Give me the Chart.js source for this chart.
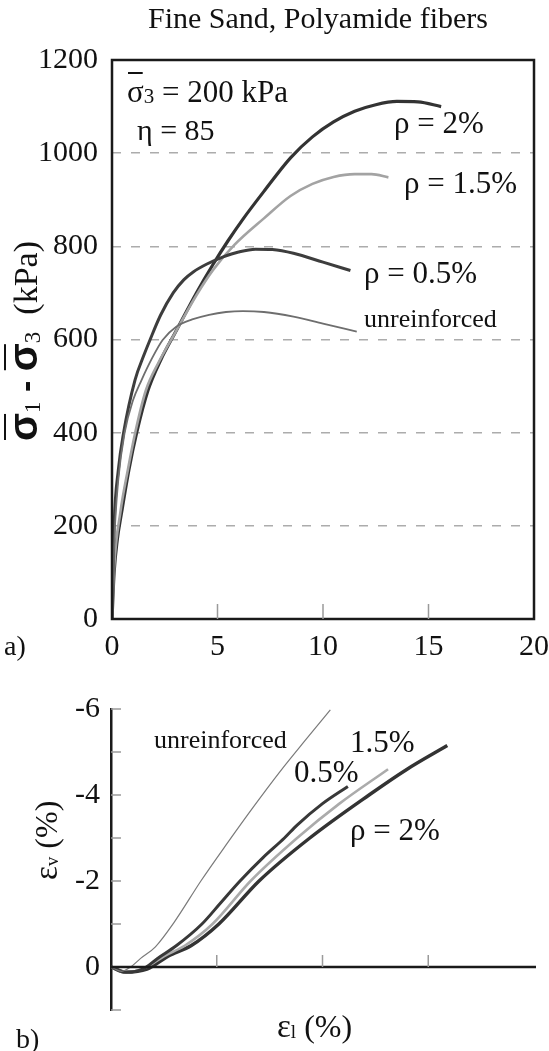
<!DOCTYPE html>
<html>
<head>
<meta charset="utf-8">
<title>Fine Sand, Polyamide fibers</title>
<script src="https://cdn.jsdelivr.net/npm/chart.js@4.4.1/dist/chart.umd.min.js"></script>
<style>
  body { margin: 0; background: #fff; }
  #wrap { position: relative; width: 549px; height: 1051px; }
  canvas { position: absolute; left: 0; }
  #stressChart { top: 0; }
  #volChart { top: 680px; }
</style>
</head>
<body>
<div id="wrap">
  <canvas id="stressChart" width="549" height="680"></canvas>
  <canvas id="volChart" width="549" height="371"></canvas>
</div>
<script>
// a) deviator stress (kPa) against axial strain (%)
const strainUnr = [0, 0.1, 0.3, 0.6, 1.0, 1.4, 1.9, 2.4, 3.06, 3.8, 4.6, 5.4, 6.2, 7.2, 8.6, 10, 11.6];
const stressUnr = [0, 160, 300, 400, 470, 513, 560, 599, 628, 643, 653, 659, 661, 659, 649, 634, 617];

const strain05 = [0, 0.1, 0.3, 0.55, 1.09, 1.5, 1.8, 2.3, 2.9, 3.4, 3.85, 4.5, 5.3, 6.0, 6.8, 7.6, 8.6, 10, 11.3];
const stress05 = [0, 200, 320, 400, 513, 565, 599, 652, 700, 728, 745, 762, 778, 788, 794, 793, 785, 766, 748];

const strain15 = [0, 0.1, 0.4, 0.75, 1.1, 1.6, 2.2, 3.0, 4.0, 4.8, 5.8, 7.2, 8.46, 9.5, 10.5, 11.5, 12.3, 13.1];
const stress15 = [0, 110, 230, 320, 400, 490, 550, 615, 695, 750, 803, 860, 908, 934, 949, 955, 955, 948];

const strain2 = [0, 0.1, 0.25, 0.46, 0.8, 1.17, 1.7, 2.3, 3.07, 4.0, 4.8, 5.5, 6.2, 7.2, 8.46, 9.5, 10.5, 11.5, 12.5, 13.5, 14.5, 15.6];
const stress2 = [0, 100, 170, 230, 320, 400, 490, 555, 621, 700, 762, 812, 858, 918, 990, 1035, 1067, 1090, 1104, 1111, 1110, 1100];

// b) volumetric strain (%) against axial strain (%)
const volStrainUnr = [0, 0.5, 0.93, 1.4, 2.1, 3.0, 4.25, 5.5, 6.7, 8.0, 9.2, 10.37];
const volUnr = [0, 0.1, 0, -0.2, -0.47, -1.05, -2.0, -2.88, -3.7, -4.55, -5.28, -5.98];

const volStrain05 = [0, 0.7, 1.5, 2.2, 3.1, 4.3, 5.2, 6.1, 7.2, 8.2, 8.8, 10, 11.2];
const vol05 = [0, 0.12, 0.05, -0.2, -0.5, -1.0, -1.5, -2.0, -2.55, -3.0, -3.3, -3.8, -4.2];

const volStrain15 = [0, 0.7, 1.6, 2.5, 3.5, 4.8, 6.6, 8.8, 10.8, 13.1];
const vol15 = [0, 0.12, 0.02, -0.25, -0.5, -1.0, -2.0, -3.0, -3.8, -4.6];

const volStrain2 = [0, 0.7, 1.7, 2.7, 3.8, 5.1, 7.0, 9.4, 12.2, 14.0, 15.9];
const vol2 = [0, 0.12, 0.05, -0.25, -0.5, -1.0, -2.0, -3.0, -4.0, -4.6, -5.15];

const seriesNames = ["unreinforced", "ρ = 0.5%", "ρ = 1.5%", "ρ = 2%"];
const strainTicks = [0, 5, 10, 15, 20];
const stressTicks = [0, 200, 400, 600, 800, 1000, 1200];
const volTicks = [-6, -4, -2, 0];

const ink = "#111";
const serif = '"Liberation Serif"';
const sans = '"Liberation Sans"';

Chart.defaults.font.family = serif;
Chart.defaults.color = ink;

const toPoints = (xs, ys) => xs.map((x, i) => ({ x: x, y: ys[i] }));

// writes a run of text pieces left to right, optional overbar and sub offset
function drawParts(ctx, x, y, parts) {
  let cx = x;
  for (const p of parts) {
    ctx.font = p.font;
    const w = ctx.measureText(p.text).width;
    ctx.fillText(p.text, cx, y + (p.dy || 0));
    if (p.bar) ctx.fillRect(cx + 1, y - p.bar, w - 2, 2);
    cx += w;
  }
  return cx - x;
}

function tickLine(ctx, x1, y1, x2, y2) {
  ctx.beginPath();
  ctx.moveTo(x1, y1);
  ctx.lineTo(x2, y2);
  ctx.stroke();
}

const stressDecor = {
  id: "stressDecor",
  afterDraw(chart) {
    const { ctx, chartArea: a } = chart;
    const xs = chart.scales.x;
    ctx.save();

    // frame round the plot
    ctx.strokeStyle = "#1a1a1a";
    ctx.lineWidth = 2.5;
    ctx.strokeRect(a.left, a.top, a.right - a.left, a.bottom - a.top);

    // short inward marks on the strain axis
    ctx.strokeStyle = "#9a9a9a";
    ctx.lineWidth = 1.5;
    strainTicks.slice(1, -1).forEach((v) => {
      const px = xs.getPixelForValue(v);
      tickLine(ctx, px, a.bottom, px, a.bottom - 15);
    });

    ctx.fillStyle = ink;
    ctx.textBaseline = "alphabetic";

    ctx.textAlign = "center";
    ctx.font = "30px " + serif;
    ctx.fillText("Fine Sand, Polyamide fibers", 318, 28);
    ctx.textAlign = "left";

    drawParts(ctx, 127, 102, [
      { text: "σ", font: "31px " + serif, bar: 30 },
      { text: "3", font: "21px " + serif, dy: 1 },
      { text: " = 200 kPa", font: "31px " + serif },
    ]);
    drawParts(ctx, 137, 140, [{ text: "η = 85", font: "30px " + serif }]);

    // curve names next to their ends
    ctx.font = "31px " + serif;
    ctx.fillText(seriesNames[3], 394, 133);
    ctx.fillText(seriesNames[2], 404, 193);
    ctx.fillText(seriesNames[1], 364, 283);
    ctx.font = "26px " + serif;
    ctx.fillText(seriesNames[0], 364, 327);

    ctx.font = "28px " + serif;
    ctx.fillText("a)", 4, 655);

    // rotated stress axis title
    ctx.save();
    ctx.translate(37, 441);
    ctx.rotate(-Math.PI / 2);
    drawParts(ctx, 0, 0, [
      { text: "σ", font: "bold 41px " + sans, bar: 33 },
      { text: "1", font: "23px " + serif, dy: 3 },
      { text: " - ", font: "bold 34px " + sans },
      { text: "σ", font: "bold 41px " + sans, bar: 33 },
      { text: "3", font: "23px " + serif, dy: 3 },
      { text: "  (kPa)", font: "34px " + serif },
    ]);
    ctx.restore();

    ctx.restore();
  },
};

const volDecor = {
  id: "volDecor",
  afterDraw(chart) {
    const { ctx, chartArea: a } = chart;
    const xs = chart.scales.x;
    const ys = chart.scales.y;
    const y0 = ys.getPixelForValue(0);
    ctx.save();

    // strain axis drawn through zero
    ctx.strokeStyle = "#1a1a1a";
    ctx.lineWidth = 2.5;
    tickLine(ctx, a.left, y0, a.right + 2, y0);

    ctx.strokeStyle = "#9a9a9a";
    ctx.lineWidth = 1.5;
    strainTicks.slice(1, -1).forEach((v) => {
      const px = xs.getPixelForValue(v);
      tickLine(ctx, px, y0, px, y0 - 12);
    });
    for (let v = -6; v <= 1; v++) {
      if (v === 0) continue;
      const py = ys.getPixelForValue(v);
      tickLine(ctx, a.left, py, a.left + 10, py);
    }

    ctx.fillStyle = ink;
    ctx.textAlign = "left";
    ctx.textBaseline = "alphabetic";
    const top = 680;

    ctx.font = "26px " + serif;
    ctx.fillText(seriesNames[0], 154, 748 - top);
    ctx.font = "31px " + serif;
    ctx.fillText("1.5%", 350, 752 - top);
    ctx.fillText("0.5%", 294, 782 - top);
    ctx.fillText(seriesNames[3], 350, 840 - top);

    drawParts(ctx, 277, 1037 - top, [
      { text: "ε", font: "33px " + serif },
      { text: "l", font: "19px " + serif, dy: 1 },
      { text: " (%)", font: "32px " + serif },
    ]);

    ctx.font = "28px " + serif;
    ctx.fillText("b)", 16, 1048 - top);

    ctx.save();
    ctx.translate(57, 880 - top);
    ctx.rotate(-Math.PI / 2);
    drawParts(ctx, 0, 0, [
      { text: "ε", font: "33px " + serif },
      { text: "v", font: "19px " + serif, dy: 1 },
      { text: " (%)", font: "32px " + serif },
    ]);
    ctx.restore();

    ctx.restore();
  },
};

const lineStyle = [
  { borderColor: "#6e6e6e", borderWidth: 1.8 },
  { borderColor: "#3d3d3d", borderWidth: 3 },
  { borderColor: "#a3a3a3", borderWidth: 2.6 },
  { borderColor: "#333333", borderWidth: 3.2 },
];

function makeSets(pairs, styles) {
  return pairs.map((p, i) => ({
    label: seriesNames[i],
    data: toPoints(p[0], p[1]),
    borderColor: styles[i].borderColor,
    borderWidth: styles[i].borderWidth,
    fill: false,
    pointRadius: 0,
    cubicInterpolationMode: "monotone",
  }));
}

const plainNumber = (v) => String(v);

new Chart(document.getElementById("stressChart"), {
  type: "line",
  data: {
    datasets: makeSets(
      [[strainUnr, stressUnr], [strain05, stress05], [strain15, stress15], [strain2, stress2]],
      lineStyle
    ),
  },
  options: {
    responsive: false,
    animation: false,
    layout: { padding: { top: 60, right: 15, left: 0, bottom: 0 } },
    plugins: { legend: { display: false }, tooltip: { enabled: false } },
    scales: {
      x: {
        type: "linear",
        min: 0,
        max: 20,
        afterBuildTicks: (s) => { s.ticks = strainTicks.map((v) => ({ value: v })); },
        afterFit: (s) => {
          s.height = 61;
          // end labels may hang past the plot edges
          s.paddingLeft = 0;
          s.paddingRight = 0;
        },
        ticks: { font: { size: 30 }, color: ink, padding: 10, maxRotation: 0, callback: plainNumber },
        grid: { display: false, drawTicks: false },
        border: { display: false },
      },
      y: {
        type: "linear",
        min: 0,
        max: 1200,
        afterBuildTicks: (s) => { s.ticks = stressTicks.map((v) => ({ value: v })); },
        afterFit: (s) => { s.width = 112; },
        ticks: { font: { size: 30 }, color: ink, padding: 14, callback: plainNumber },
        grid: {
          drawTicks: false,
          lineWidth: 1.6,
          color: (c) => (c.tick && c.tick.value > 0 && c.tick.value < 1200 ? "#acacac" : "rgba(0,0,0,0)"),
        },
        border: { display: false, dash: [9, 10] },
      },
    },
  },
  plugins: [stressDecor],
});

const volStyle = [
  { borderColor: "#7a7a7a", borderWidth: 1.2 },
  { borderColor: "#383838", borderWidth: 3 },
  { borderColor: "#ababab", borderWidth: 2.6 },
  { borderColor: "#333333", borderWidth: 3.4 },
];

new Chart(document.getElementById("volChart"), {
  type: "line",
  data: {
    datasets: makeSets(
      [[volStrainUnr, volUnr], [volStrain05, vol05], [volStrain15, vol15], [volStrain2, vol2]],
      volStyle
    ),
  },
  options: {
    responsive: false,
    animation: false,
    layout: { padding: { top: 29, right: 15, left: 0, bottom: 41 } },
    plugins: { legend: { display: false }, tooltip: { enabled: false } },
    scales: {
      x: { type: "linear", min: 0, max: 20, display: false },
      y: {
        type: "linear",
        min: -6,
        max: 1,
        reverse: true,
        afterBuildTicks: (s) => { s.ticks = volTicks.map((v) => ({ value: v })); },
        afterFit: (s) => { s.width = 111; },
        ticks: { font: { size: 30 }, color: ink, padding: 11, callback: plainNumber },
        grid: { drawOnChartArea: false, drawTicks: false },
        border: { display: true, color: "#1a1a1a", width: 2.5 },
      },
    },
  },
  plugins: [volDecor],
});
</script>
</body>
</html>
